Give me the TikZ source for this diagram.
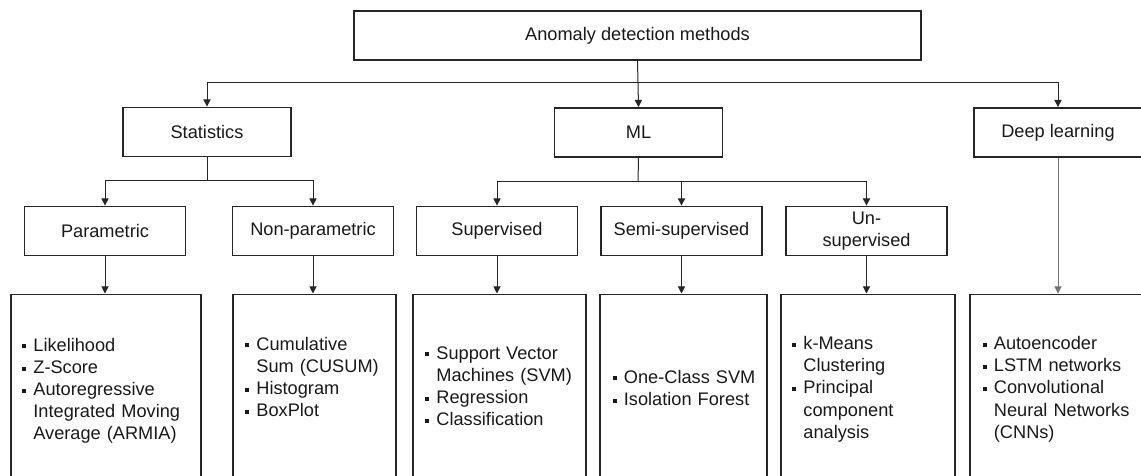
\documentclass[tikz,border=0pt]{standalone}
\usepackage{fontspec}
\setmainfont{Liberation Sans}
\usetikzlibrary{arrows.meta}

% square bullet items; \cont starts an indented continuation line
\newcommand{\sqbullet}{\makebox[5.5pt][l]{\rule[1.35pt]{2pt}{2pt}}}
\newcommand{\itm}[1]{\sqbullet#1}
\newcommand{\nitm}[1]{\par\sqbullet#1}
\newcommand{\cont}{\par\hspace*{5.5pt}}

\tikzset{
  txt/.style={font=\fontsize{9.1pt}{11.1pt}\selectfont, text=black!90},
  catbox/.style={txt, draw=black!85, line width=0.9pt, minimum width=84pt,
    minimum height=24.5pt, inner sep=0pt, align=center},
  subbox/.style={catbox, minimum width=80.5pt},
  listbox/.style={draw=black!85, line width=0.9pt, anchor=north west, inner sep=0pt},
  listtext/.style={txt, anchor=base west, inner sep=0pt, text width=95pt, align=left},
  conn/.style={draw=black!85, line width=0.5pt},
  arr/.style={conn, -{Triangle[width=3.6pt,length=3.6pt]}}
}

\begin{document}
\begin{tikzpicture}[x=0.5pt,y=-0.5pt]
  \useasboundingbox (0,0) rectangle (1141,476);
  \clip (0,0) rectangle (1141,476);

  % root
  \node[catbox, minimum width=283.5pt] (top) at (637.5,35.5) {Anomaly detection methods};

  % first level
  \node[catbox] (stat) at (207,132) {Statistics};
  \node[catbox] (ml)   at (638.5,132.5) {ML};
  \node[catbox] (dl)   at (1058,132.5) {Deep learning};

  % second level
  \node[subbox] (par)  at (105,231) {Parametric};
  \node[subbox] (npar) at (313,231) {Non-parametric};
  \node[subbox] (sup)  at (497,231) {Supervised};
  \node[subbox] (semi) at (681.5,231) {Semi-supervised};
  \node[subbox] (uns)  at (866.5,231) {Un-\\supervised};

  % method boxes (open below)
  \node[listbox, minimum width=95pt,  minimum height=110pt] (lpar)  at (10,293.5) {};
  \node[listbox, minimum width=81.5pt,minimum height=110pt] (lnpar) at (232,293.5) {};
  \node[listbox, minimum width=86.5pt,minimum height=110pt] (lsup)  at (412,293.5) {};
  \node[listbox, minimum width=83.5pt,minimum height=110pt] (lsemi) at (599,293.5) {};
  \node[listbox, minimum width=87pt,  minimum height=110pt] (luns)  at (780,293.5) {};
  \node[listbox, minimum width=95pt,  minimum height=110pt] (ldl)   at (969,293.5) {};

  % method lists
  \node[listtext] (tpar) at (22,351)
    {\itm{Likelihood}\nitm{Z-Score}\nitm{Autoregressive}\cont Integrated Moving\cont Average (ARMIA)};
  \node[listtext] (tnpar) at (245,350)
    {\itm{Cumulative}\cont Sum (CUSUM)\nitm{Histogram}\nitm{BoxPlot}};
  \node[listtext] (tsup) at (425,359)
    {\itm{Support Vector}\cont Machines (SVM)\nitm{Regression}\nitm{Classification}};
  \node[listtext] (tsemi) at (612.5,383)
    {\itm{One-Class SVM}\nitm{Isolation Forest}};
  \node[listtext] (tuns) at (792,349.5)
    {\itm{k-Means}\cont Clustering\nitm{Principal}\cont component\cont analysis};
  \node[listtext] (tdl) at (982.5,349.5)
    {\itm{Autoencoder}\nitm{LSTM networks}\nitm{Convolutional}\cont Neural Networks\cont (CNNs)};

  % root to first level
  \coordinate (b0) at (638,83);
  \draw[conn] (top.south) -- (b0);
  \draw[arr] (b0) -| (stat.north);
  \draw[arr] (b0) -- (ml.north);
  \draw[arr] (b0) -| (dl.north);

  % statistics branch
  \coordinate (b1) at (207,181);
  \draw[conn] (stat.south) -- (b1);
  \draw[arr] (b1) -| (par.north);
  \draw[arr] (b1) -| (npar.north);

  % ML branch
  \coordinate (b2) at (638,182);
  \draw[conn] (ml.south) -- (b2);
  \draw[arr] (b2) -| (sup.north);
  \draw[arr] (b2) -| (semi.north);
  \draw[arr] (b2) -| (uns.north);

  % to method boxes
  \draw[arr] (par.south)  -- (par.south |- lpar.north);
  \draw[arr] (npar.south) -- (npar.south |- lnpar.north);
  \draw[arr] (sup.south)  -- (sup.south |- lsup.north);
  \draw[arr] (semi.south) -- (semi.south |- lsemi.north);
  \draw[arr] (uns.south)  -- (uns.south |- luns.north);
  \draw[arr, draw=black!55] (dl.south) -- (dl.south |- ldl.north);
\end{tikzpicture}
\end{document}
